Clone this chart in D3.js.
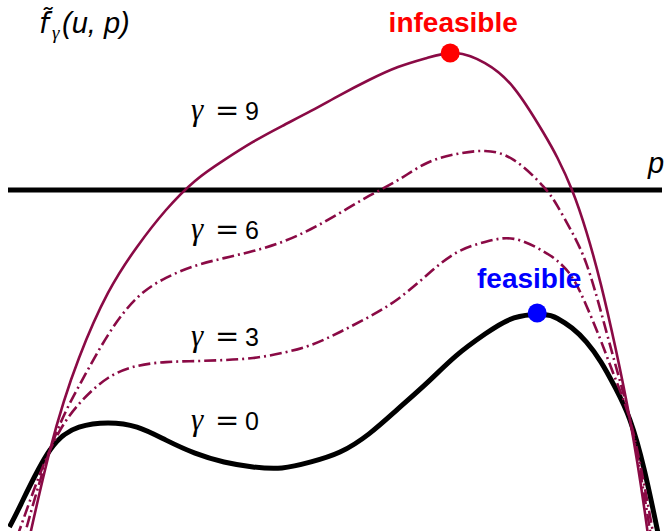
<!DOCTYPE html>
<html>
<head>
<meta charset="utf-8">
<script src="https://cdn.jsdelivr.net/npm/d3@7"></script>
<style>
  html, body { margin: 0; padding: 0; background: #fff; }
  svg { display: block; }
</style>
</head>
<body>
<svg id="chart" width="667" height="531"></svg>
<script>
// Sample points of the decision variable u
const u = [-0.07, -0.05, 0, 0.05, 0.10, 0.15, 0.20, 0.25, 0.30, 0.35, 0.40, 0.45,
           0.50, 0.55, 0.60, 0.65, 0.70, 0.75, 0.80, 0.85, 0.875, 0.90, 0.925, 0.95,
           0.975, 1.00, 1.025, 1.05];

// Penalised objective f~_gamma(u, p) for each gamma
const gamma0 = [-0.296, -0.208, 0, 0.088, 0.104, 0.088, 0.038, -0.012, -0.046, -0.065, -0.069, -0.046,
                -0.008, 0.062, 0.158, 0.258, 0.362, 0.446, 0.508, 0.521, 0.506, 0.469, 0.415, 0.338,
                0.238, 0.115, -0.080, -0.338];
const gamma3 = [-0.415, -0.292, 0, 0.177, 0.277, 0.323, 0.338, 0.342, 0.346, 0.354, 0.373, 0.404,
                0.454, 0.512, 0.581, 0.673, 0.758, 0.800, 0.812, 0.765, 0.727, 0.665, 0.554, 0.419,
                0.273, 0.115, -0.140, -0.446];
const gamma6 = [-0.542, -0.377, 0, 0.246, 0.442, 0.585, 0.662, 0.708, 0.738, 0.765, 0.800, 0.850,
                0.912, 0.977, 1.038, 1.104, 1.138, 1.150, 1.115, 1.015, 0.938, 0.838, 0.715, 0.531,
                0.327, 0.115, -0.180, -0.530];
const gamma9 = [-0.690, -0.485, 0, 0.354, 0.604, 0.781, 0.923, 1.035, 1.115, 1.185, 1.246, 1.304,
                1.365, 1.423, 1.473, 1.508, 1.527, 1.488, 1.392, 1.223, 1.123, 1.000, 0.838, 0.635,
                0.392, 0.115, -0.230, -0.650];

// Constraint level p
const pLevel = 1;

// Marked maxima
const infeasiblePoint = { u: 0.69, f: 1.527, label: "infeasible" };
const feasiblePoint   = { u: 0.84, f: 0.527, label: "feasible" };

// Curve annotations
const gammaLabels = [
  { gamma: "9", f: 1.27 },
  { gamma: "6", f: 0.81 },
  { gamma: "3", f: 0.40 },
  { gamma: "0", f: 0.077 }
];

const svg = d3.select("#chart");
const x = d3.scaleLinear().domain([0, 1]).range([50, 630]);
const y = d3.scaleLinear().domain([0, 1]).range([450, 190]);
const uExtent = [x.invert(8), x.invert(662)];

const crimson = "#8a0a45";

svg.append("defs").append("clipPath").attr("id", "plotClip")
  .append("rect")
  .attr("x", x(uExtent[0])).attr("y", 0)
  .attr("width", x(uExtent[1]) - x(uExtent[0])).attr("height", 531);

const plot = svg.append("g").attr("clip-path", "url(#plotClip)");

const line = d3.line()
  .x(d => x(d[0]))
  .y(d => y(d[1]))
  .curve(d3.curveNatural);

const pts = vals => u.map((v, i) => [v, vals[i]]);

// constraint level p
plot.append("line")
  .attr("x1", x(uExtent[0])).attr("x2", x(uExtent[1]))
  .attr("y1", y(pLevel)).attr("y2", y(pLevel))
  .attr("stroke", "#000").attr("stroke-width", 5);

// gamma = 0 (original objective)
plot.append("path")
  .attr("d", line(pts(gamma0)))
  .attr("fill", "none").attr("stroke", "#000").attr("stroke-width", 5);

// penalised versions
const series = [
  { vals: gamma3, dash: "12,4,2,4" },
  { vals: gamma6, dash: "12,4,2,4" },
  { vals: gamma9, dash: null }
];
series.forEach(s => {
  plot.append("path")
    .attr("d", line(pts(s.vals)))
    .attr("fill", "none")
    .attr("stroke", crimson)
    .attr("stroke-width", 2.6)
    .attr("stroke-dasharray", s.dash);
});

// maxima markers
svg.append("circle")
  .attr("cx", x(infeasiblePoint.u)).attr("cy", y(infeasiblePoint.f)).attr("r", 9.5)
  .attr("fill", "#ff0000");
svg.append("circle")
  .attr("cx", x(feasiblePoint.u)).attr("cy", y(feasiblePoint.f)).attr("r", 9.5)
  .attr("fill", "#0000ff");

svg.append("text")
  .attr("x", x(infeasiblePoint.u) + 3).attr("y", y(infeasiblePoint.f) - 21)
  .attr("text-anchor", "middle")
  .attr("font-family", "Liberation Sans, Arial, sans-serif")
  .attr("font-weight", "bold").attr("font-size", 28)
  .attr("fill", "#ff0000")
  .text(infeasiblePoint.label);

svg.append("text")
  .attr("x", x(feasiblePoint.u) - 8).attr("y", y(feasiblePoint.f) - 25)
  .attr("text-anchor", "middle")
  .attr("font-family", "Liberation Sans, Arial, sans-serif")
  .attr("font-weight", "bold").attr("font-size", 28)
  .attr("fill", "#0000ff")
  .text(feasiblePoint.label);

// gamma labels
gammaLabels.forEach(g => {
  const t = svg.append("text")
    .attr("y", y(g.f))
    .attr("fill", "#000");
  t.append("tspan")
    .attr("x", 191)
    .attr("font-family", "Liberation Serif, serif")
    .attr("font-style", "italic").attr("font-size", 31)
    .text("γ");
  t.append("tspan")
    .attr("x", 215)
    .attr("font-family", "DejaVu Serif, serif")
    .attr("font-size", 29)
    .text("=");
  t.append("tspan")
    .attr("x", 245)
    .attr("font-family", "Liberation Sans, Arial, sans-serif")
    .attr("font-size", 25)
    .text(g.gamma);
});

// axis label f~_gamma(u, p)
const yl = svg.append("text").attr("y", 33).attr("fill", "#000");
yl.append("tspan")
  .attr("x", 39)
  .attr("font-family", "DejaVu Sans, sans-serif")
  .attr("font-style", "italic").attr("font-size", 28)
  .text("f\u0303");
yl.append("tspan")
  .attr("x", 52).attr("dy", 6)
  .attr("font-family", "Liberation Serif, serif")
  .attr("font-style", "italic").attr("font-size", 19)
  .text("γ");
yl.append("tspan")
  .attr("x", 62).attr("dy", -6)
  .attr("font-family", "Liberation Sans, Arial, sans-serif")
  .attr("font-style", "italic").attr("font-size", 29)
  .text("(u, p)");

// p label
svg.append("text")
  .attr("x", 648).attr("y", y(pLevel) - 17)
  .attr("font-family", "Liberation Sans, Arial, sans-serif")
  .attr("font-style", "italic").attr("font-size", 29)
  .text("p");
</script>
</body>
</html>
